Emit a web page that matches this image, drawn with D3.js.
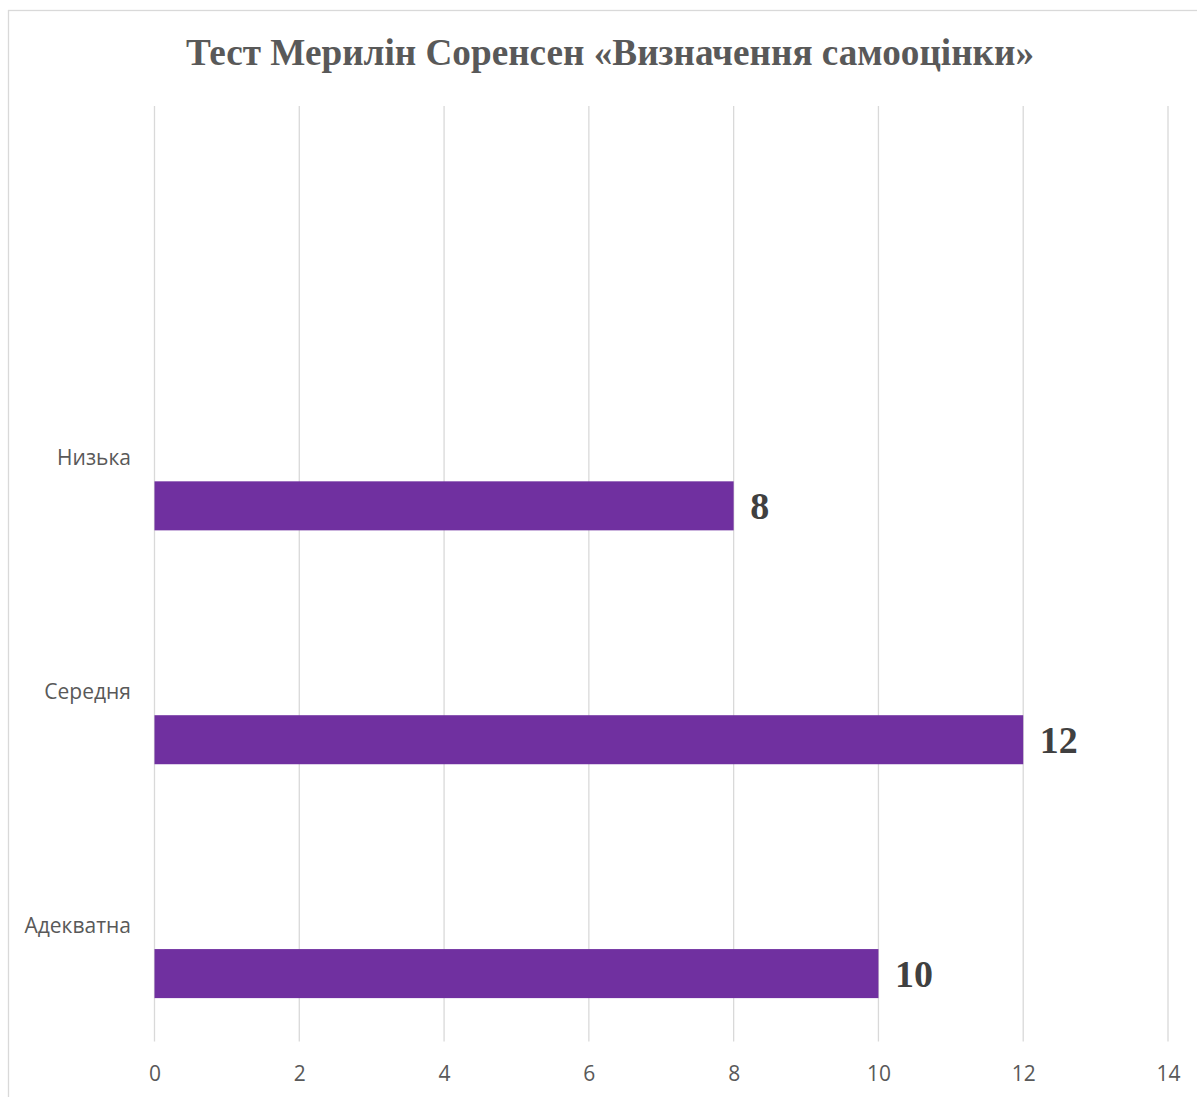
<!DOCTYPE html>
<html><head><meta charset="utf-8">
<script src="https://cdn.jsdelivr.net/npm/d3@7"></script>
<style>body{margin:0;background:#fff;} svg{display:block;}</style>
</head><body>
<script>
const title = "Тест Мерилін Соренсен «Визначення самооцінки»";
const categories = ["", "Низька", "Середня", "Адекватна"];
const seriesNames = ["Ряд 1", "Ряд 2", "Ряд 3"];
const series1 = [null, null, null, null];
const series2 = [null, null, null, null];
const series3 = [null, 8, 12, 10];
const xTicks = [0, 2, 4, 6, 8, 10, 12, 14];

const W = 1197, H = 1097;
const svg = d3.select("body").append("svg").attr("width", W).attr("height", H);
svg.append("rect").attr("width", W).attr("height", H).attr("fill", "#fff");
svg.append("rect").attr("x", 8.5).attr("y", 10.5).attr("width", W + 10).attr("height", H + 10)
  .attr("fill", "none").attr("stroke", "#d9d9d9").attr("stroke-width", 1.3);

const x = d3.scaleLinear().domain([0, 14]).range([154.5, 1168]);
const y = d3.scaleBand().domain(categories).range([106, 1041.5]).padding(0);
const yi = d3.scaleBand().domain(seriesNames).range([0, y.bandwidth()]).paddingInner(0).paddingOuter(0.885);

// gridlines
svg.append("g").selectAll("line").data(xTicks).join("line")
  .attr("x1", d => x(d)).attr("x2", d => x(d))
  .attr("y1", 106).attr("y2", 1041.5)
  .attr("stroke", "#d9d9d9").attr("stroke-width", 1.3);

// x axis labels
const xAxis = d3.axisBottom(x).tickValues(xTicks).tickSize(0).tickPadding(0);
const gx = svg.append("g").attr("transform", "translate(0,1081)").call(xAxis);
gx.select(".domain").remove();
gx.selectAll("text").attr("font-family", "'Open Sans', sans-serif").attr("font-size", 21)
  .attr("fill", "#595959").attr("dy", "0");

// category labels
svg.append("g").selectAll("text").data(categories).join("text")
  .attr("x", 131).attr("y", d => y(d) + y.bandwidth() / 2 + 8.5)
  .attr("text-anchor", "end")
  .attr("font-family", "'Open Sans', sans-serif").attr("font-size", 21)
  .attr("fill", "#595959").text(d => d);

// bars
const allSeries = [series1, series2, series3];
const barData = [];
allSeries.forEach((s, si) => s.forEach((v, ci) => {
  if (v != null) barData.push({cat: categories[ci], ser: seriesNames[si], v});
}));
svg.append("g").selectAll("rect").data(barData).join("rect")
  .attr("x", x(0)).attr("y", d => y(d.cat) + yi(d.ser))
  .attr("width", d => x(d.v) - x(0)).attr("height", yi.bandwidth())
  .attr("fill", "#7030a0");

svg.append("g").selectAll("text").data(barData).join("text")
  .attr("x", d => x(d.v) + 16.5).attr("y", d => y(d.cat) + yi(d.ser) + yi.bandwidth() / 2 + 13)
  .attr("font-family", "'Liberation Serif', 'Times New Roman', serif").attr("font-weight", "bold")
  .attr("font-size", 38).attr("fill", "#404040").text(d => d.v);

// title
svg.append("text").attr("x", 610).attr("y", 65).attr("text-anchor", "middle")
  .attr("font-family", "'Liberation Serif', 'Times New Roman', serif").attr("font-weight", "bold")
  .attr("font-size", 37.2).attr("fill", "#595959").text(title);
</script>
</body></html>
